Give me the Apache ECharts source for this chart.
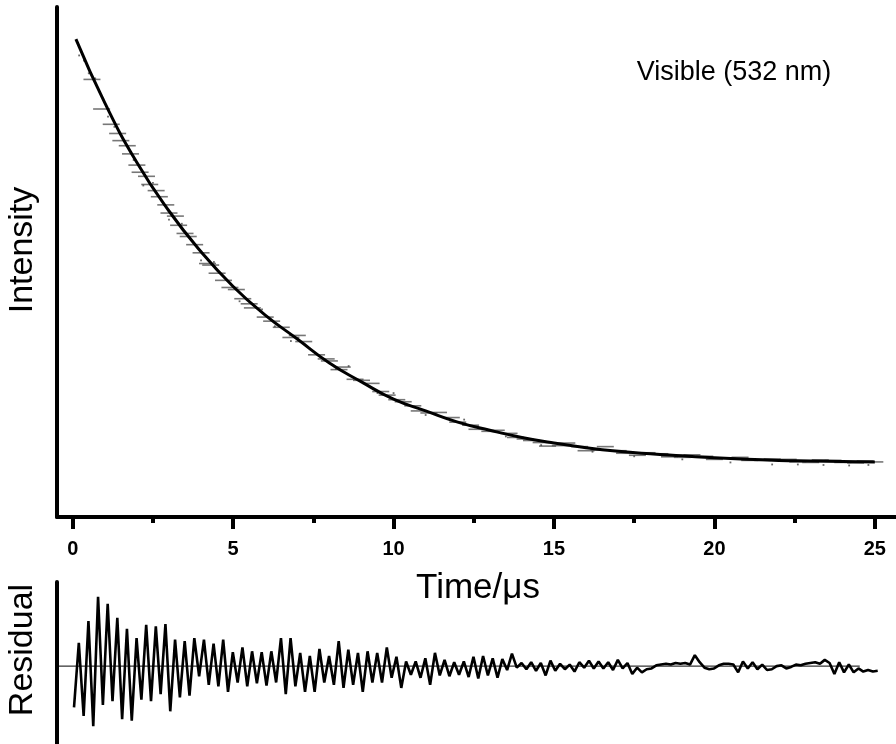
<!DOCTYPE html>
<html>
<head>
<meta charset="utf-8">
<script src="https://cdn.jsdelivr.net/npm/echarts@6/dist/echarts.min.js"></script>
<style>html,body{margin:0;padding:0;background:#fff;}#c{width:896px;height:744px;}</style>
</head>
<body>
<div id="c"></div>
<script>
// ---- data ----
const xTickLabels = [0, 5, 10, 15, 20, 25];
const xMinorTicks = [2.5, 7.5, 12.5, 17.5, 22.5];

// fitted decay curve (time in µs, intensity in arbitrary units)
const fitT = [0.1, 1, 2, 3, 4, 5, 6, 7, 8, 9, 10, 11, 12, 13, 14, 15, 16, 17, 18, 19, 20, 21, 22, 23, 24, 25];
const fitV = [0.937, 0.812, 0.695, 0.600, 0.520, 0.452, 0.396, 0.349, 0.302, 0.265, 0.231, 0.208, 0.186, 0.170, 0.156, 0.145, 0.136, 0.129, 0.124, 0.120, 0.116, 0.113, 0.111, 0.110, 0.109, 0.108];

// experimental data shown as short horizontal dashes
const dashT = [0.9, 1.2, 1.5, 1.8, 2.0, 2.3, 2.6, 2.9, 3.2, 3.5, 3.8, 4.2, 4.5, 4.9, 5.3, 5.6, 6.0, 6.5, 7.2, 7.6, 8.0, 8.4, 8.8, 9.3, 9.8, 10.3, 10.8, 11.4, 12.0, 12.6, 13.2, 13.8, 14.3, 14.8, 15.4, 16.0, 16.6, 17.2, 17.9, 18.6, 19.3, 20.0, 20.8, 21.5, 22.3, 23.0, 23.7, 24.4, 25.0,
  0.6, 1.4, 1.7, 2.1, 2.4, 2.7, 3.0, 3.3, 3.6, 4.0, 4.3, 4.7, 5.1, 5.5, 6.2, 6.8, 7.0, 7.9, 8.3, 9.0, 9.6, 10.1, 10.6, 11.1, 11.8, 12.4, 13.0, 13.6, 14.1, 14.6, 15.2, 15.8, 16.4, 17.0, 17.6, 18.3, 19.0, 19.7, 20.4, 21.1, 21.8, 22.6, 23.3, 24.0, 24.7];
const dashV = [0.800, 0.770, 0.738, 0.712, 0.690, 0.668, 0.640, 0.612, 0.590, 0.556, 0.534, 0.497, 0.478, 0.450, 0.428, 0.410, 0.392, 0.372, 0.344, 0.318, 0.306, 0.294, 0.270, 0.262, 0.239, 0.226, 0.208, 0.205, 0.186, 0.172, 0.170, 0.156, 0.150, 0.139, 0.145, 0.130, 0.138, 0.125, 0.126, 0.118, 0.122, 0.113, 0.117, 0.111, 0.113, 0.107, 0.111, 0.106, 0.108,
  0.858, 0.752, 0.728, 0.676, 0.652, 0.628, 0.596, 0.572, 0.550, 0.518, 0.494, 0.464, 0.446, 0.418, 0.384, 0.352, 0.356, 0.310, 0.289, 0.268, 0.246, 0.230, 0.218, 0.204, 0.195, 0.180, 0.168, 0.164, 0.153, 0.146, 0.140, 0.138, 0.131, 0.130, 0.121, 0.124, 0.117, 0.119, 0.116, 0.111, 0.114, 0.108, 0.112, 0.107, 0.110];

// experimental data shown as scattered dots
const dotT = [0.2, 0.35, 0.5, 0.7, 0.95, 1.1, 1.3, 1.9, 2.2, 2.5, 3.0, 3.4, 4.0, 4.4, 5.2, 5.9, 6.3, 6.8, 7.4, 8.2, 8.6, 9.5, 10.0, 11.0, 12.2, 13.5, 14.6, 16.2, 17.5, 19.0, 20.5, 21.8, 22.6, 23.4, 24.2, 24.8];
const dotV = [0.905, 0.895, 0.870, 0.860, 0.820, 0.785, 0.765, 0.700, 0.650, 0.655, 0.583, 0.575, 0.503, 0.500, 0.423, 0.407, 0.374, 0.345, 0.330, 0.290, 0.296, 0.243, 0.243, 0.200, 0.191, 0.158, 0.141, 0.128, 0.119, 0.113, 0.107, 0.103, 0.103, 0.102, 0.101, 0.102];

// residuals, sampled every resDt µs starting at resT0
const resT0 = 0.04;
const resDt = 0.15;
const residual = [
 -0.53, 0.30, -0.64, 0.58, -0.77, 0.89, -0.50, 0.80, -0.45, 0.62,
 -0.68, 0.48, -0.70, 0.36, -0.43, 0.53, -0.45, 0.51, -0.36, 0.54,
 -0.58, 0.34, -0.40, 0.32, -0.38, 0.36, -0.13, 0.34, -0.24, 0.29,
 -0.26, 0.34, -0.33, 0.18, -0.21, 0.24, -0.26, 0.19, -0.22, 0.18,
 -0.25, 0.19, -0.21, 0.36, -0.36, 0.36, -0.26, 0.17, -0.33, 0.13,
 -0.33, 0.22, -0.21, 0.13, -0.24, 0.32, -0.28, 0.21, -0.24, 0.17,
 -0.33, 0.19, -0.21, 0.17, -0.21, 0.24, -0.15, 0.12, -0.28, 0.06,
 -0.11, 0.06, -0.15, 0.10, -0.24, 0.17, -0.12, 0.08, -0.13, 0.05,
 -0.11, 0.06, -0.14, 0.12, -0.16, 0.13, -0.12, 0.10, -0.15, 0.09,
 -0.05, 0.16, -0.02, 0.04, -0.04, 0.05, -0.06, 0.04, -0.12, 0.07,
 -0.06, 0.03, -0.04, 0.02, -0.07, 0.05, -0.02, 0.07, -0.03, 0.06,
 -0.03, 0.05, -0.05, 0.08, -0.03, 0.04, -0.10, -0.02, -0.08, -0.04,
 -0.03, 0.01, 0.02, 0.03, 0.02, 0.04, 0.03, 0.04, 0.02, 0.14,
 0.05, -0.02, -0.04, -0.03, 0.01, 0.03, 0.03, 0.02, -0.08, 0.06,
 -0.03, 0.05, -0.04, 0.02, -0.05, -0.04, 0.00, 0.01, -0.03, -0.01,
 0.02, 0.01, 0.03, 0.04, 0.05, 0.03, 0.08, 0.04, -0.10, 0.05,
 -0.08, 0.02, -0.08, -0.03, -0.07, -0.05, -0.07, -0.06
];
const zeroLineEnd = 24.53;

// ---- build ----
const X_MIN = -0.49, X_MAX = 25.66;
const FONT = '"Liberation Sans", Arial, sans-serif';
const fitData = fitT.map((t, i) => [t, fitV[i]]);
const dashData = dashT.map((t, i) => [t, dashV[i]]);
const dotData = dotT.map((t, i) => [t, dotV[i]]);
const resData = residual.map((v, i) => [resT0 + i * resDt, v]);

const chart = echarts.init(document.getElementById('c'), null, {renderer: 'canvas'});
chart.setOption({
  animation: false,
  backgroundColor: '#fff',
  grid: [
    {left: 57, top: 7, right: 0, height: 510},
    {left: 57, top: 582, right: 0, height: 162}
  ],
  xAxis: [
    {
      type: 'value', gridIndex: 0, min: X_MIN, max: X_MAX, position: 'bottom',
      splitLine: {show: false},
      axisLine: {show: true, onZero: false, lineStyle: {color: '#000', width: 4}},
      axisTick: {show: true, customValues: xTickLabels, length: 12, lineStyle: {color: '#000', width: 4}},
      axisLabel: {show: true, customValues: xTickLabels, margin: 22, color: '#000', fontSize: 20, fontWeight: 'bold', fontFamily: FONT}
    },
    {
      type: 'value', gridIndex: 0, min: X_MIN, max: X_MAX, position: 'bottom',
      splitLine: {show: false},
      axisLine: {show: false},
      axisTick: {show: true, customValues: xMinorTicks, length: 6, lineStyle: {color: '#000', width: 4}},
      axisLabel: {show: false}
    },
    {
      type: 'value', gridIndex: 1, min: X_MIN, max: X_MAX,
      show: false
    }
  ],
  yAxis: [
    {
      type: 'value', gridIndex: 0, min: 0, max: 1,
      splitLine: {show: false},
      axisLine: {show: true, onZero: false, lineStyle: {color: '#000', width: 4}},
      axisTick: {show: false}, axisLabel: {show: false}
    },
    {
      type: 'value', gridIndex: 1, min: -1, max: 1.08,
      splitLine: {show: false},
      axisLine: {show: true, onZero: false, lineStyle: {color: '#000', width: 4}},
      axisTick: {show: false}, axisLabel: {show: false}
    }
  ],
  series: [
    {
      type: 'scatter', xAxisIndex: 0, yAxisIndex: 0, data: dashData,
      symbol: 'rect', symbolSize: [17, 1.6], itemStyle: {color: '#555'}, silent: true
    },
    {
      type: 'scatter', xAxisIndex: 0, yAxisIndex: 0, data: dotData,
      symbol: 'rect', symbolSize: [1.8, 1.8], itemStyle: {color: '#444'}, silent: true
    },
    {
      type: 'line', xAxisIndex: 0, yAxisIndex: 0, data: fitData, smooth: true,
      showSymbol: false, lineStyle: {color: '#000', width: 3}, silent: true
    },
    {
      type: 'line', xAxisIndex: 2, yAxisIndex: 1,
      data: [[X_MIN, 0], [zeroLineEnd, 0]],
      showSymbol: false, lineStyle: {color: '#000', width: 1}, silent: true
    },
    {
      type: 'line', xAxisIndex: 2, yAxisIndex: 1, data: resData,
      showSymbol: false, lineStyle: {color: '#000', width: 2.6}, silent: true
    }
  ],
  graphic: [
    {type: 'text', x: 23, y: 250, rotation: Math.PI / 2,
     style: {text: 'Intensity', font: '34px ' + FONT, fill: '#000', align: 'center', verticalAlign: 'middle'}},
    {type: 'text', x: 23, y: 650, rotation: Math.PI / 2,
     style: {text: 'Residual', font: '34px ' + FONT, fill: '#000', align: 'center', verticalAlign: 'middle'}},
    {type: 'text', x: 478, y: 588,
     style: {text: 'Time/\u03bcs', font: '35px ' + FONT, fill: '#000', align: 'center', verticalAlign: 'middle'}},
    {type: 'text', x: 734, y: 73,
     style: {text: 'Visible (532 nm)', font: '27px ' + FONT, fill: '#000', align: 'center', verticalAlign: 'middle'}}
  ]
});
</script>
</body>
</html>
